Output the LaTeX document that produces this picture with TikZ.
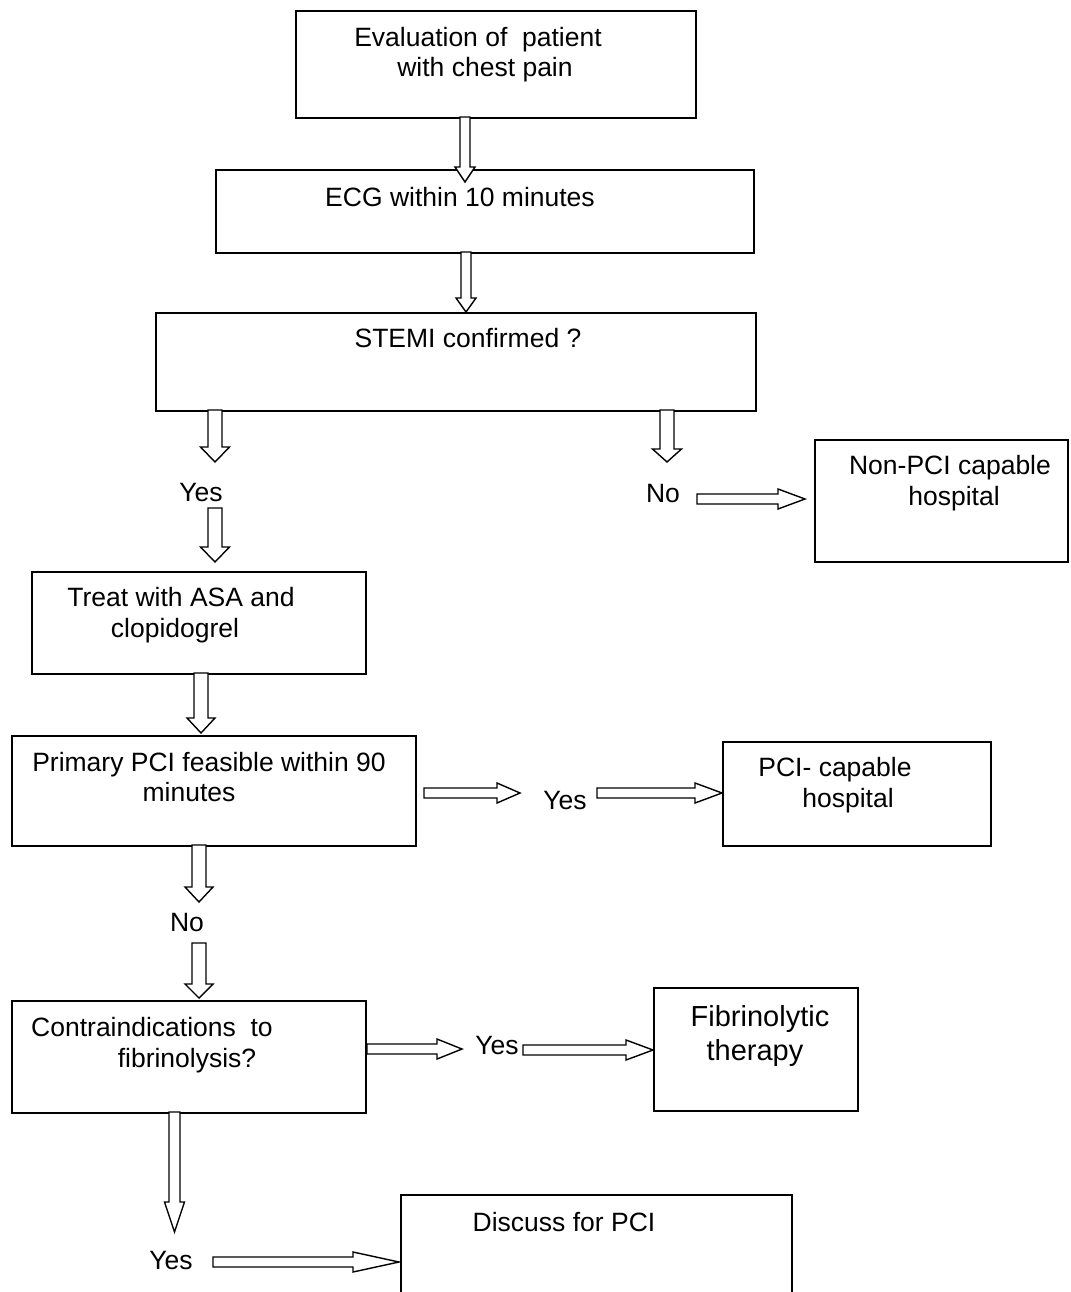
\documentclass[tikz,border=0pt]{standalone}
\usepackage{fontspec}
\setmainfont{Liberation Sans}
\tikzset{
  box/.style={draw, line width=1.6pt, inner sep=0pt, anchor=north west},
  lbl/.style={anchor=base, inner sep=0pt, font=\fontsize{26.5}{30}\selectfont},
  biglbl/.style={anchor=base, inner sep=0pt, font=\fontsize{29}{33}\selectfont},
  barrow/.style={draw, line width=1.4pt, fill=white, line join=miter}
}
% x, ytop, ytip, shaft half width, head half width, head length
\newcommand\downarr[6]{\draw[barrow] ({#1-#4},#2) -- ({#1+#4},#2) -- ({#1+#4},{#3-#6}) -- ({#1+#5},{#3-#6}) -- (#1,#3) -- ({#1-#5},{#3-#6}) -- ({#1-#4},{#3-#6}) -- cycle;}
% y, xleft, xtip, shaft half width, head half width, head length
\newcommand\rightarr[6]{\draw[barrow] (#2,{#1-#4}) -- ({#3-#6},{#1-#4}) -- ({#3-#6},{#1-#5}) -- (#3,#1) -- ({#3-#6},{#1+#5}) -- ({#3-#6},{#1+#4}) -- (#2,{#1+#4}) -- cycle;}
\begin{document}
\begin{tikzpicture}[x=1pt,y=-1pt]
\path[use as bounding box, clip] (0,0) rectangle (1070,1292);
\fill[white] (0,0) rectangle (1070,1292);

% boxes
\node[box, minimum width=400pt, minimum height=107pt] (eval) at (295,10) {};
\node[box, minimum width=538pt, minimum height=83pt] (ecg) at (215,169) {};
\node[box, minimum width=600pt, minimum height=98pt] (stemi) at (155,312) {};
\node[box, minimum width=253pt, minimum height=122pt] (nonpci) at (814,439) {};
\node[box, minimum width=334pt, minimum height=102pt] (treat) at (31,571) {};
\node[box, minimum width=404pt, minimum height=110pt] (primary) at (11,735) {};
\node[box, minimum width=268pt, minimum height=104pt] (pcicap) at (722,741) {};
\node[box, minimum width=354pt, minimum height=112pt] (contra) at (11,1000) {};
\node[box, minimum width=204pt, minimum height=123pt] (fibrino) at (653,987) {};
\node[box, minimum width=391pt, minimum height=150pt] (discuss) at (400,1194) {};

% texts
\node[lbl] (t-eval1) at (478,47) {Evaluation of\ \ patient};
\node[lbl] (t-eval2) at (485,77) {with chest pain};
\node[lbl] (t-ecg) at (460,206) {ECG within 10 minutes};
\node[lbl] (t-stemi) at (468,347) {STEMI confirmed ?};
\node[lbl] (yes1) at (201,501) {Yes};
\node[lbl] (no1) at (663,502) {No};
\node[lbl] (t-non1) at (950,474) {Non-PCI capable};
\node[lbl] (t-non2) at (954,505) {hospital};
\node[lbl] (t-treat1) at (181,606) {Treat with ASA and};
\node[lbl] (t-treat2) at (175,637) {clopidogrel};
\node[lbl] (t-prim1) at (209,771) {Primary PCI feasible within 90};
\node[lbl] (t-prim2) at (189,801) {minutes};
\node[lbl] (yes2) at (565,809) {Yes};
\node[lbl] (t-pci1) at (835,776) {PCI- capable};
\node[lbl] (t-pci2) at (848,807) {hospital};
\node[lbl] (no2) at (187,931) {No};
\node[lbl] (t-con1) at (152,1036) {Contraindications\ \ to};
\node[lbl] (t-con2) at (187,1067) {fibrinolysis?};
\node[lbl] (yes3) at (497,1054) {Yes};
\node[biglbl] (t-fib1) at (760,1026) {Fibrinolytic};
\node[biglbl] (t-fib2) at (755,1060) {therapy};
\node[lbl] (yes4) at (171,1269) {Yes};
\node[lbl] (t-disc) at (564,1231) {Discuss for PCI};

% block arrows
\downarr{465}{117}{182}{5}{10}{15}
\downarr{466}{252}{312}{5}{10}{14}
\downarr{215}{410}{462}{7}{14.5}{15}
\downarr{215}{508}{562}{7}{14.5}{15}
\downarr{667}{410}{462}{7}{14.5}{13}
\rightarr{499}{697}{805}{5}{10}{27}
\downarr{201}{673}{733}{7}{14}{15}
\rightarr{793}{424}{520}{5}{10}{23}
\rightarr{793}{597}{722}{5}{10}{27}
\downarr{199}{845}{902}{7}{14}{15}
\downarr{199}{943}{998}{7}{14}{14}
\rightarr{1049}{367}{462}{5}{10}{25}
\rightarr{1050}{523}{653}{5}{10}{27}
\downarr{174.5}{1112}{1232}{5.5}{10}{30}
\rightarr{1262}{213}{399}{5}{10}{46}
\end{tikzpicture}
\end{document}
